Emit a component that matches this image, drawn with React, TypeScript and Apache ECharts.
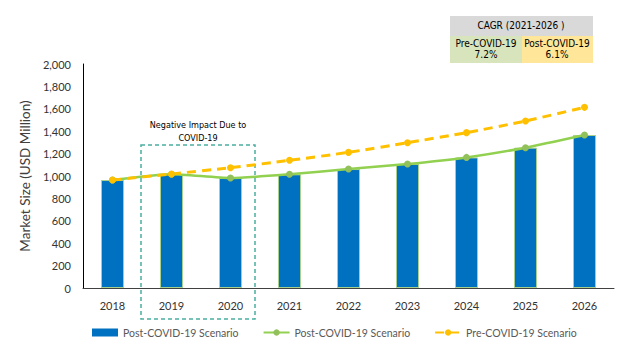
import React, { useEffect, useRef } from "react";
import * as echarts from "echarts";

const years = ["2018", "2019", "2020", "2021", "2022", "2023", "2024", "2025", "2026"];
const postCovidBars = [964, 1016, 982, 1015, 1062, 1107, 1166, 1253, 1366];
const postCovidLine = [964, 1016, 982, 1015, 1062, 1107, 1166, 1253, 1366];
const preCovidLine = [964, 1018, 1074, 1140, 1211, 1297, 1387, 1491, 1613];
const cagrHeader = "CAGR (2021-2026 )";
const cagrPre = ["Pre-COVID-19", "7.2%"];
const cagrPost = ["Post-COVID-19", "6.1%"];

const FONT = "Lato, 'Open Sans', sans-serif";
const NARROW = "'Liberation Sans Narrow', 'DejaVu Sans Condensed', sans-serif";

export default function App() {
  const ref = useRef<HTMLDivElement>(null);
  useEffect(() => {
    const chart = echarts.init(ref.current!, null, { renderer: "svg" });
    chart.setOption({
      animation: false,
      textStyle: { fontFamily: FONT },
      grid: { left: 83, right: 10, top: 64, bottom: 65 },
      legend: {
        left: 87,
        top: 322,
        itemGap: 24,
        itemWidth: 26,
        itemHeight: 8,
        textStyle: { color: "#595959", fontSize: 10.5, fontFamily: FONT },
        formatter: (n: string) => n.replace(" (line)", ""),
        data: [
          { name: "Post-COVID-19 Scenario", icon: "rect", itemStyle: { borderWidth: 0 } },
          { name: "Post-COVID-19 Scenario (line)" },
          { name: "Pre-COVID-19 Scenario" },
        ],
      },
      xAxis: {
        type: "category",
        data: years,
        axisLine: { lineStyle: { color: "#404040", width: 1 } },
        axisTick: { show: false },
        axisLabel: { color: "#333", fontSize: 11, margin: 12 },
      },
      yAxis: {
        type: "value",
        min: 0,
        max: 2000,
        interval: 200,
        name: "Market Size (USD Million)",
        nameLocation: "middle",
        nameGap: 50,
        nameTextStyle: { color: "#404040", fontSize: 13.5, fontFamily: FONT },
        axisLine: { show: true, lineStyle: { color: "#000", width: 1 } },
        axisTick: { show: false },
        splitLine: { show: false },
        axisLabel: {
          color: "#333",
          fontSize: 11,
          margin: 12,
          formatter: (v: number) => v.toLocaleString("en-US"),
        },
      },
      series: [
        {
          name: "Post-COVID-19 Scenario",
          type: "bar",
          data: postCovidBars,
          barWidth: 23,
          itemStyle: { color: "#0070C0", borderColor: "#A9D18E", borderWidth: 1 },
        },
        {
          name: "Post-COVID-19 Scenario (line)",
          type: "line",
          data: postCovidLine,
          smooth: 0.2,
          symbol: "circle",
          symbolSize: 7,
          lineStyle: { color: "#92D050", width: 2.5 },
          itemStyle: { color: "#92C05A" },
        },
        {
          name: "Pre-COVID-19 Scenario",
          type: "line",
          data: preCovidLine,
          smooth: 0.2,
          symbol: "circle",
          symbolSize: 7,
          lineStyle: { color: "#FFC000", width: 3, type: [9, 6] },
          itemStyle: { color: "#FFC000" },
        },
      ],
      graphic: [
        {
          type: "rect",
          shape: { x: 141, y: 145, width: 114, height: 174 },
          style: { fill: "none", stroke: "#4BAFA0", lineWidth: 1.5, lineDash: [4, 3] },
          silent: true,
        },
        {
          type: "text",
          x: 198,
          y: 118,
          style: {
            text: "Negative Impact Due to\nCOVID-19",
            align: "center",
            fill: "#000",
            fontSize: 9,
            lineHeight: 13,
            fontFamily: NARROW,
          },
        },
        {
          type: "rect",
          shape: { x: 450, y: 16, width: 143, height: 20 },
          style: { fill: "#D9D9D9" },
        },
        {
          type: "rect",
          shape: { x: 450, y: 36, width: 72, height: 27 },
          style: { fill: "#D8E4BC" },
        },
        {
          type: "rect",
          shape: { x: 522, y: 36, width: 71, height: 27 },
          style: { fill: "#FFE699" },
        },
        {
          type: "text",
          x: 521,
          y: 20,
          style: { text: cagrHeader, align: "center", fill: "#000", fontSize: 10, fontFamily: NARROW },
        },
        {
          type: "text",
          x: 486,
          y: 38,
          style: {
            text: cagrPre.join("\n"),
            align: "center",
            fill: "#000",
            fontSize: 10,
            lineHeight: 11,
            fontFamily: NARROW,
          },
        },
        {
          type: "text",
          x: 557,
          y: 38,
          style: {
            text: cagrPost.join("\n"),
            align: "center",
            fill: "#000",
            fontSize: 10,
            lineHeight: 11,
            fontFamily: NARROW,
          },
        },
      ],
    });
    return () => chart.dispose();
  }, []);
  return <div ref={ref} style={{ width: 624, height: 353, margin: -8 }} />;
}
